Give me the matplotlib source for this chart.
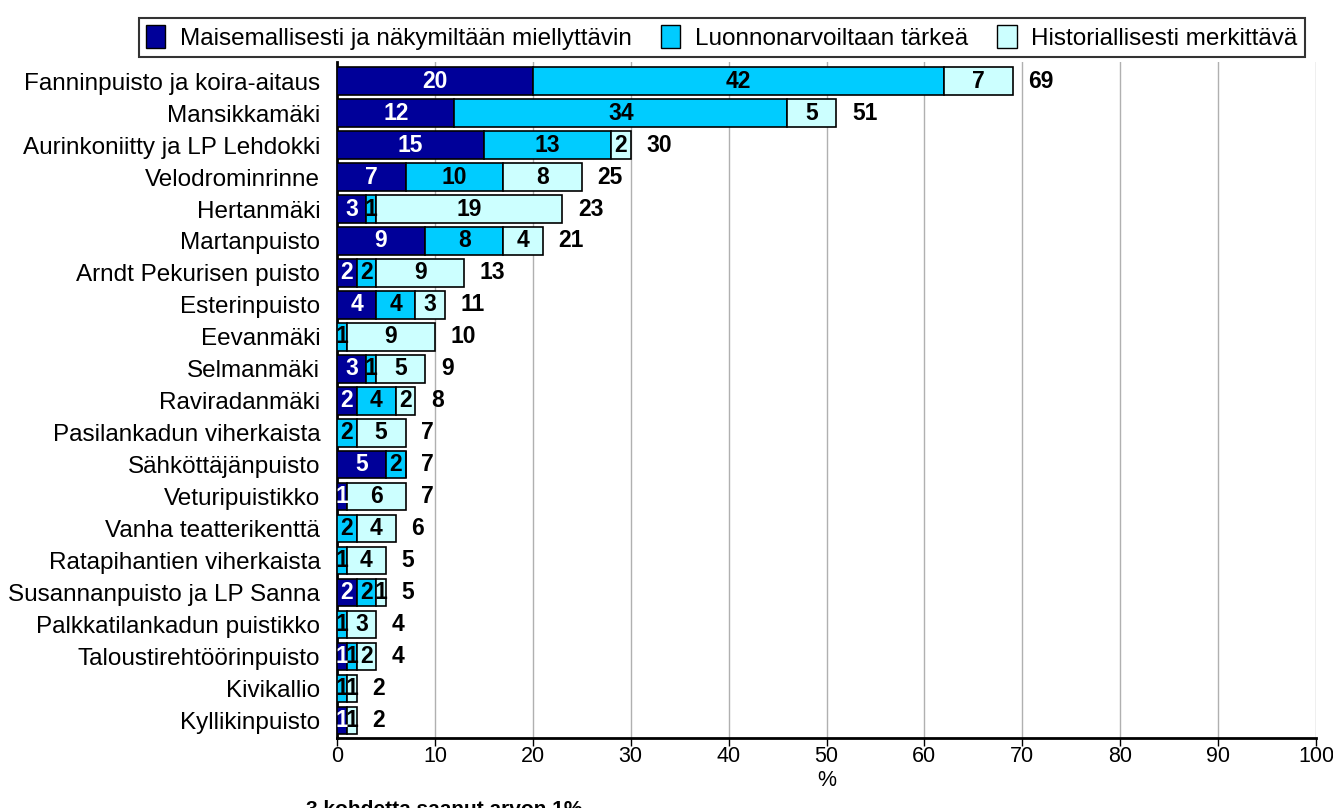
import numpy as np
import matplotlib.pyplot as plt
from matplotlib.patches import Patch

plt.rcParams['font.family'] = ['Liberation Sans', 'DejaVu Sans']

places = [
    'Fanninpuisto ja koira-aitaus', 'Mansikkamäki', 'Aurinkoniitty ja LP Lehdokki',
    'Velodrominrinne', 'Hertanmäki', 'Martanpuisto', 'Arndt Pekurisen puisto',
    'Esterinpuisto', 'Eevanmäki', 'Selmanmäki', 'Raviradanmäki',
    'Pasilankadun viherkaista', 'Sähköttäjänpuisto', 'Veturipuistikko',
    'Vanha teatterikenttä', 'Ratapihantien viherkaista', 'Susannanpuisto ja LP Sanna',
    'Palkkatilankadun puistikko', 'Taloustirehtöörinpuisto', 'Kivikallio', 'Kyllikinpuisto',
]
maisema = [20, 12, 15, 7, 3, 9, 2, 4, 0, 3, 2, 0, 5, 1, 0, 0, 2, 0, 1, 0, 1]
luonto = [42, 34, 13, 10, 1, 8, 2, 4, 1, 1, 4, 2, 2, 0, 2, 1, 2, 1, 1, 1, 0]
historia = [7, 5, 2, 8, 19, 4, 9, 3, 9, 5, 2, 5, 0, 6, 4, 4, 1, 3, 2, 1, 1]
totals = [69, 51, 30, 25, 23, 21, 13, 11, 10, 9, 8, 7, 7, 7, 6, 5, 5, 4, 4, 2, 2]

series_names = ['Maisemallisesti ja näkymiltään miellyttävin',
                'Luonnonarvoiltaan tärkeä', 'Historiallisesti merkittävä']
colors = ['#000099', '#00CCFF', '#CCFFFF']
text_colors = ['white', 'black', 'black']

fig = plt.figure(figsize=(13.33, 8.08), dpi=100)
ax = fig.add_axes([0.2528, 0.0866, 0.7345, 0.8367])

y = np.arange(len(places))
left = np.zeros(len(places))
for vals, col, tcol in zip([maisema, luonto, historia], colors, text_colors):
    vals = np.array(vals, dtype=float)
    ax.barh(y, vals, left=left, height=0.86, color=col, edgecolor='black',
            linewidth=1.2, zorder=3)
    for yi, (l, v) in enumerate(zip(left, vals)):
        if v > 0:
            ax.text(l + v / 2, yi, f'{int(v)}', ha='center', va='center',
                    color=tcol, fontsize=16.5, fontweight='bold', zorder=4)
    left += vals

for yi, t in enumerate(totals):
    ax.text(left[yi] + 1.6, yi, str(t), ha='left', va='center',
            fontsize=16.5, fontweight='bold', color='black')

ax.set_xlim(0, 100)
ax.set_ylim(len(places) - 0.45, -0.6)
ax.set_yticks(y)
ax.set_yticklabels(places, fontsize=17.5)
ax.tick_params(axis='y', length=0, pad=12)
ax.set_xticks(np.arange(0, 101, 10))
ax.tick_params(axis='x', labelsize=15.5, length=6, direction='out', width=1, pad=0)
ax.set_xlabel('%', fontsize=15.5, labelpad=2)

ax.grid(axis='x', color='#b0b0b0', linewidth=1, zorder=0)
ax.set_axisbelow(True)
for s in ['top', 'right']:
    ax.spines[s].set_visible(False)
ax.spines['left'].set_linewidth(2)
ax.spines['bottom'].set_linewidth(2)

handles = [Patch(facecolor=c, edgecolor='black', linewidth=1) for c in colors]
leg = fig.legend(handles, series_names, ncol=3, loc='upper right',
                 bbox_to_anchor=(0.988, 0.993), fontsize=17.5, frameon=True,
                 fancybox=False, edgecolor='black', handlelength=0.8,
                 handleheight=1.1, handletextpad=0.6, columnspacing=1.2,
                 borderpad=0.3)
leg.get_frame().set_linewidth(1.5)

fig.text(0.2296, -0.014, '3 kohdetta saanut arvon 1%', fontsize=15,
         fontweight='bold', ha='left', va='bottom')

fig.savefig('out.png', dpi=100)
